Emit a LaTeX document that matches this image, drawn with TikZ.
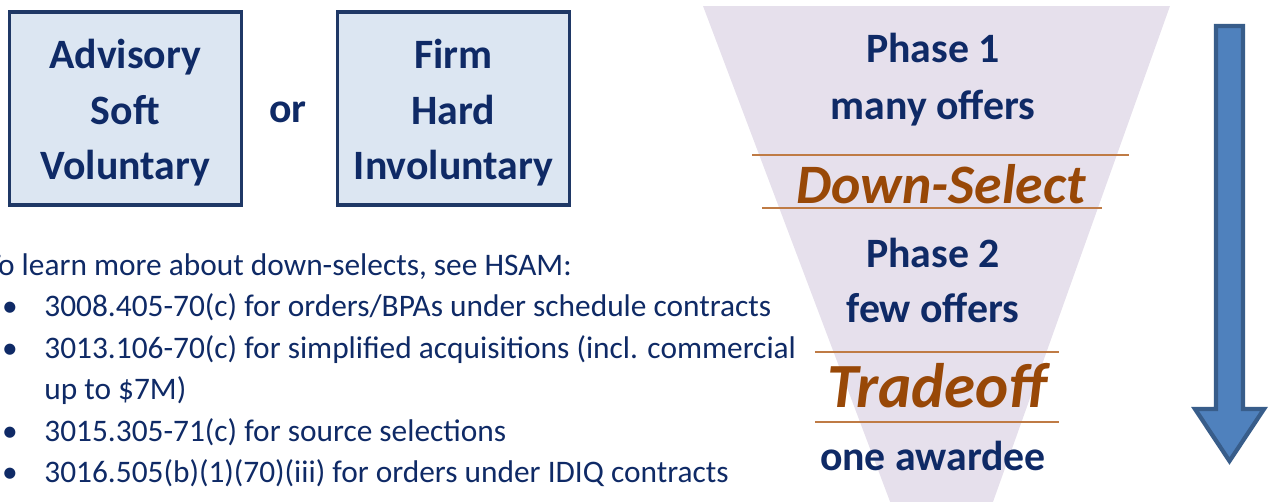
\documentclass[tikz,border=0pt]{standalone}
\usepackage{fontspec}
\setmainfont{Carlito}
\definecolor{navy}{HTML}{0F2A66}
\definecolor{boxline}{HTML}{1F3866}
\definecolor{boxfill}{HTML}{DCE6F2}
\definecolor{funnelfill}{HTML}{E6E0EC}
\definecolor{rust}{HTML}{984807}
\definecolor{rustline}{HTML}{BF7B45}
\definecolor{arrowfill}{HTML}{4F81BD}
\definecolor{arrowline}{HTML}{385D8A}
\begin{document}
\begin{tikzpicture}[x=0.02cm,y=-0.02cm,
  optbox/.style={draw=boxline,line width=2pt,fill=boxfill,
    minimum width=4.64cm,minimum height=3.87cm},
  optext/.style={text=navy,align=center,inner sep=0pt,
    font=\fontsize{23.8}{31.5}\selectfont\bfseries},
  phase/.style={anchor=base,inner sep=0pt,text=navy,
    font=\fontsize{23.8}{28}\selectfont\bfseries},
  step label/.style={anchor=base,inner sep=0pt,text=rust,
    font=\fontsize{#1}{#1}\selectfont\bfseries\itshape},
  divider/.style={draw=rustline,line width=0.9pt},
  body/.style={anchor=base west,inner sep=0pt,text=navy,
    font=\fontsize{17.85}{23.5}\selectfont},
  dot/.style={anchor=base,inner sep=0pt,text=navy,
    font=\fontsize{17.85}{23.5}\selectfont}]
\useasboundingbox (0,0) rectangle (1272,501);
\clip (0,0) rectangle (1272,501);
% funnel
\fill[funnelfill] (703,6) -- (1170,6) -- (943,642) -- cycle;
\draw[divider] (752,155) -- (1129,155);
\draw[divider] (762,208) -- (1102,208);
\draw[divider] (815,352) -- (1059,352);
\draw[divider] (815,422) -- (1059,422);
\node[phase] (phase1) at (933,62) {Phase 1};
\node[phase] (many) at (933,119) {many offers};
\node[step label=31.7] (downselect) at (941,203) {Down-Select};
\node[phase] (phase2) at (933,267) {Phase 2};
\node[phase] (few) at (933,322) {few offers};
\node[step label=35.8] (tradeoff) at (937,407) {Tradeoff};
\node[phase] (awardee) at (933,470) {one awardee};
% arrow
\draw[line width=2.4pt,draw=arrowline,fill=arrowfill,line join=miter]
  (1216,26) -- (1243,26) -- (1243,409) -- (1264,409) -- (1229.5,461)
  -- (1195,409) -- (1216,409) -- cycle;
% choice boxes
\node[optbox] (advisory) at (125.3,108.5) {};
\node[optbox] (firm) at (453.5,108.5) {};
\node[optext] (advisorytext) at ([yshift=-2.4pt]advisory.center) {Advisory\\Soft\\Voluntary};
\node[optext] (firmtext) at ([yshift=-2.4pt]firm.center) {Firm\\Hard\\Involuntary};
\node[phase] (orword) at (288,122) {or};
% references
\node[body,anchor=base east] (intro) at (572,275) {To learn more about down-selects, see HSAM:};
\foreach \y in {316,358,441,482}
  \node[dot] at (10,\y) {•};
\node[body] (ref1) at (44,316) {3008.405-70(c) for orders/BPAs under schedule contracts};
\node[body] (ref2) at (44,358) {3013.106-70(c) for simplified acquisitions (incl. commercial};
\node[body] (ref2b) at (44,399) {up to \$7M)};
\node[body] (ref3) at (44,441) {3015.305-71(c) for source selections};
\node[body] (ref4) at (44,482) {3016.505(b)(1)(70)(iii) for orders under IDIQ contracts};
\end{tikzpicture}
\end{document}
